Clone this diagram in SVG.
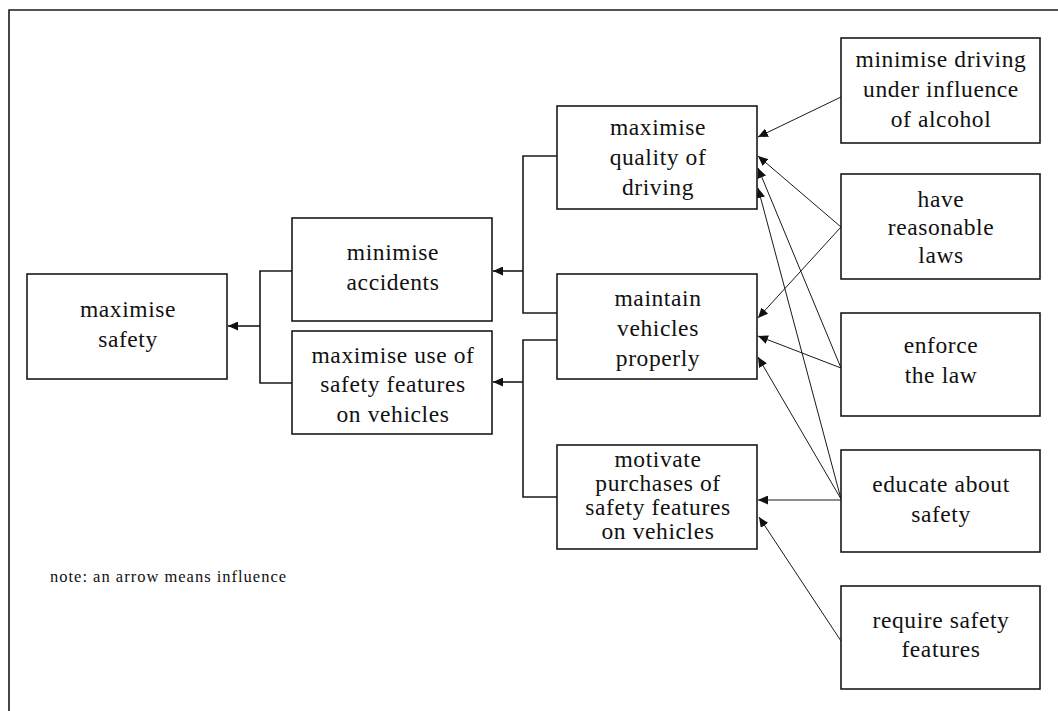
<svg xmlns="http://www.w3.org/2000/svg" width="1058" height="711" viewBox="0 0 1058 711">
  <style>
    .box { fill: #ffffff; stroke: #1a1a1a; stroke-width: 1.6; }
    .lbl { font-family: "Liberation Serif", "Times New Roman", serif; font-size: 23.5px; letter-spacing: 0.6px; fill: #111; text-anchor: middle; }
    .note { font-family: "Liberation Serif", "Times New Roman", serif; font-size: 16.5px; letter-spacing: 1px; fill: #111; }
    .frame { fill: none; stroke: #1a1a1a; stroke-width: 1.6; }
    .bracket { fill: none; stroke: #1a1a1a; stroke-width: 1.6; }
    .arrow { fill: none; stroke: #1a1a1a; stroke-width: 1.6; marker-end: url(#head); }
    .infl { fill: none; stroke: #1a1a1a; stroke-width: 1; marker-end: url(#head); }
  </style>
  <defs>
    <marker id="head" viewBox="0 0 10 9" refX="10" refY="4.5" markerWidth="10" markerHeight="9" markerUnits="userSpaceOnUse" orient="auto">
      <path d="M0,0 L10,4.5 L0,9 z" fill="#111"/>
    </marker>
  </defs>

  <rect width="1058" height="711" fill="#ffffff"/>
  <!-- outer frame: top and left edges -->
  <path class="frame" d="M9,711 V10 H1058"/>

  <g id="connectors">
    <!-- goal hierarchy brackets -->
    <path class="bracket" d="M292,271 H260 V383 H292"/>
    <path class="arrow" d="M260,326 H228"/>
    <path class="bracket" d="M557,156 H523 V313 H557"/>
    <path class="arrow" d="M523,271 H493"/>
    <path class="bracket" d="M557,340 H523 V497 H557"/>
    <path class="arrow" d="M523,382 H493"/>
    <!-- influences -->
    <path class="infl" d="M841,97 L758,137"/>
    <path class="infl" d="M841,227 L758,156"/>
    <path class="infl" d="M841,227 L758,318"/>
    <path class="infl" d="M841,368 L758,168"/>
    <path class="infl" d="M841,368 L758,336"/>
    <path class="infl" d="M841,499 L758,188"/>
    <path class="infl" d="M841,499 L758,357"/>
    <path class="infl" d="M841,500 L758,500"/>
    <path class="infl" d="M841,641 L759,517"/>
  </g>

  <g id="maximise-safety">
    <rect class="box" x="27" y="274" width="200" height="105"/>
    <text class="lbl" x="128" y="317">maximise</text>
    <text class="lbl" x="128" y="347">safety</text>
  </g>
  <g id="minimise-accidents">
    <rect class="box" x="292" y="218" width="200" height="103"/>
    <text class="lbl" x="393" y="260">minimise</text>
    <text class="lbl" x="393" y="290">accidents</text>
  </g>
  <g id="maximise-use">
    <rect class="box" x="292" y="331" width="200" height="103"/>
    <text class="lbl" x="393" y="363">maximise use of</text>
    <text class="lbl" x="393" y="392">safety features</text>
    <text class="lbl" x="393" y="422">on vehicles</text>
  </g>
  <g id="maximise-quality">
    <rect class="box" x="557" y="106" width="200" height="103"/>
    <text class="lbl" x="658" y="135">maximise</text>
    <text class="lbl" x="658" y="165">quality of</text>
    <text class="lbl" x="658" y="195">driving</text>
  </g>
  <g id="maintain-vehicles">
    <rect class="box" x="557" y="274" width="200" height="105"/>
    <text class="lbl" x="658" y="306">maintain</text>
    <text class="lbl" x="658" y="336">vehicles</text>
    <text class="lbl" x="658" y="366">properly</text>
  </g>
  <g id="motivate-purchases">
    <rect class="box" x="557" y="445" width="200" height="104"/>
    <text class="lbl" x="658" y="467">motivate</text>
    <text class="lbl" x="658" y="491">purchases of</text>
    <text class="lbl" x="658" y="515">safety features</text>
    <text class="lbl" x="658" y="539">on vehicles</text>
  </g>
  <g id="minimise-alcohol">
    <rect class="box" x="841" y="38" width="199" height="105"/>
    <text class="lbl" x="941" y="67">minimise driving</text>
    <text class="lbl" x="941" y="97">under influence</text>
    <text class="lbl" x="941" y="127">of alcohol</text>
  </g>
  <g id="reasonable-laws">
    <rect class="box" x="841" y="174" width="199" height="105"/>
    <text class="lbl" x="941" y="207">have</text>
    <text class="lbl" x="941" y="235">reasonable</text>
    <text class="lbl" x="941" y="263">laws</text>
  </g>
  <g id="enforce-law">
    <rect class="box" x="841" y="313" width="199" height="103"/>
    <text class="lbl" x="941" y="353">enforce</text>
    <text class="lbl" x="941" y="383">the law</text>
  </g>
  <g id="educate-safety">
    <rect class="box" x="841" y="450" width="199" height="102"/>
    <text class="lbl" x="941" y="492">educate about</text>
    <text class="lbl" x="941" y="522">safety</text>
  </g>
  <g id="require-features">
    <rect class="box" x="841" y="586" width="199" height="103"/>
    <text class="lbl" x="941" y="628">require safety</text>
    <text class="lbl" x="941" y="657">features</text>
  </g>

  <text class="note" x="50" y="582">note: an arrow means influence</text>
</svg>
